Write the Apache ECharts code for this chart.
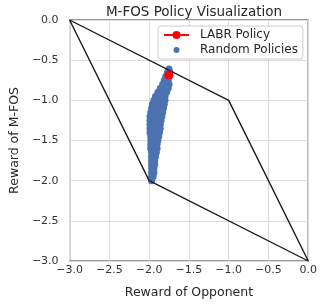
<!DOCTYPE html>
<html lang="en">
<head>
    <meta charset="UTF-8">
    <title>M-FOS Policy Visualization</title>
    <script src="https://cdn.jsdelivr.net/npm/echarts@6/dist/echarts.min.js"></script>
    <style>html,body{margin:0;padding:0;background:#fff;}</style>
</head>
<body>
<div id="chart" style="width: 320px;height: 305px;"></div>
<script>
    // feasible region outline (opponent reward, M-FOS reward)
    var boundary = [[-3, 0], [-1, -1], [0, -3], [-2, -2], [-3, 0]];
    var labrPolicy = [[-1.752, -0.685]];
    var randomPolicies = [
        [-1.75,-0.61],
        [-1.77,-0.65],[-1.74,-0.65],
        [-1.79,-0.70],[-1.75,-0.70],
        [-1.81,-0.75],[-1.76,-0.75],
        [-1.83,-0.80],[-1.79,-0.80],[-1.75,-0.80],
        [-1.86,-0.85],[-1.81,-0.85],[-1.76,-0.85],
        [-1.89,-0.90],[-1.84,-0.90],[-1.78,-0.90],
        [-1.92,-0.95],[-1.86,-0.95],[-1.80,-0.95],
        [-1.94,-1.00],[-1.89,-1.00],[-1.84,-1.00],[-1.80,-1.00],
        [-1.96,-1.05],[-1.91,-1.05],[-1.86,-1.05],[-1.81,-1.05],
        [-1.97,-1.10],[-1.92,-1.10],[-1.87,-1.10],[-1.82,-1.10],
        [-1.98,-1.15],[-1.93,-1.15],[-1.88,-1.15],[-1.83,-1.15],
        [-1.99,-1.20],[-1.94,-1.20],[-1.89,-1.20],[-1.84,-1.20],
        [-1.99,-1.25],[-1.94,-1.25],[-1.89,-1.25],[-1.85,-1.25],
        [-1.99,-1.30],[-1.95,-1.30],[-1.90,-1.30],[-1.86,-1.30],
        [-1.99,-1.35],[-1.95,-1.35],[-1.91,-1.35],[-1.86,-1.35],
        [-1.99,-1.40],[-1.95,-1.40],[-1.91,-1.40],[-1.87,-1.40],
        [-1.98,-1.45],[-1.94,-1.45],[-1.90,-1.45],[-1.88,-1.45],
        [-1.98,-1.50],[-1.94,-1.50],[-1.89,-1.50],
        [-1.98,-1.55],[-1.94,-1.55],[-1.90,-1.55],
        [-1.98,-1.60],[-1.94,-1.60],[-1.90,-1.60],
        [-1.97,-1.65],[-1.94,-1.65],[-1.91,-1.65],
        [-1.97,-1.70],[-1.94,-1.70],[-1.92,-1.70],
        [-1.97,-1.75],[-1.93,-1.75],
        [-1.97,-1.80],[-1.93,-1.80],
        [-1.97,-1.85],[-1.94,-1.85],
        [-1.97,-1.90],[-1.94,-1.90],
        [-1.97,-1.95],[-1.95,-1.95],
        [-1.97,-2.00]
    ];

    function fmt(v) {
        return v.toFixed(1).replace('-', '\u2212');
    }

    var font = 'DejaVu Sans';
    // small dot centred in a 25x10 legend box (corner stubs only fix the box size)
    var smallDot = 'path://M0,0L0.01,0M25,10L25.01,10M9.5,5a3,3 0 1,0 6,0a3,3 0 1,0 -6,0Z';
    var myChart = echarts.init(document.getElementById('chart'));
    var option = {
        animation: false,
        backgroundColor: '#fff',
        title: {
            text: 'M-FOS Policy Visualization',
            left: 189,
            textAlign: 'center',
            top: 0,
            textStyle: {fontFamily: font, fontSize: 13.5, fontWeight: 'normal', color: '#262626'}
        },
        grid: {
            left: 68, right: 10, top: 20, bottom: 44,
            show: true,
            borderColor: '#333',
            borderWidth: 1.2
        },
        legend: {
            orient: 'vertical',
            left: 158,
            top: 26,
            padding: [3, 5, 3, 5],
            itemGap: 3,
            itemWidth: 25,
            itemHeight: 10,
            backgroundColor: '#fff',
            borderColor: '#ccc',
            borderWidth: 1,
            borderRadius: 3,
            textStyle: {fontFamily: font, fontSize: 12, color: '#262626', padding: [0, 0, 0, 6]},
            data: ['LABR Policy', {name: 'Random Policies', icon: smallDot}]
        },
        xAxis: {
            type: 'value',
            min: -3, max: 0, interval: 0.5,
            name: 'Reward of Opponent',
            nameLocation: 'middle',
            nameGap: 25,
            nameTextStyle: {fontFamily: font, fontSize: 12.5, color: '#262626'},
            axisLine: {show: false},
            axisTick: {show: false},
            splitLine: {show: true, lineStyle: {color: '#dcdcdc', width: 1}},
            axisLabel: {fontFamily: font, fontSize: 11, color: '#333', margin: 4, formatter: fmt}
        },
        yAxis: {
            type: 'value',
            min: -3, max: 0, interval: 0.5,
            name: 'Reward of M-FOS',
            nameLocation: 'middle',
            nameGap: 48,
            nameTextStyle: {fontFamily: font, fontSize: 12.5, color: '#262626'},
            axisLine: {show: false},
            axisTick: {show: false},
            splitLine: {show: true, lineStyle: {color: '#dcdcdc', width: 1}},
            axisLabel: {fontFamily: font, fontSize: 11, color: '#333', margin: 11, formatter: fmt}
        },
        series: [{
            name: 'Random Policies',
            type: 'scatter',
            symbolSize: 7,
            itemStyle: {color: '#4c72b0', opacity: 1},
            data: randomPolicies,
            z: 2
        }, {
            name: 'boundary',
            type: 'line',
            data: boundary,
            showSymbol: false,
            lineStyle: {color: '#1a1a1a', width: 1.4},
            z: 3
        }, {
            name: 'LABR Policy',
            type: 'line',
            data: labrPolicy,
            symbol: 'circle',
            symbolSize: 9,
            lineStyle: {color: '#ff0000', width: 2},
            itemStyle: {color: '#ff0000'},
            z: 4
        }]
    };
    myChart.setOption(option);
</script>
</body>
</html>
